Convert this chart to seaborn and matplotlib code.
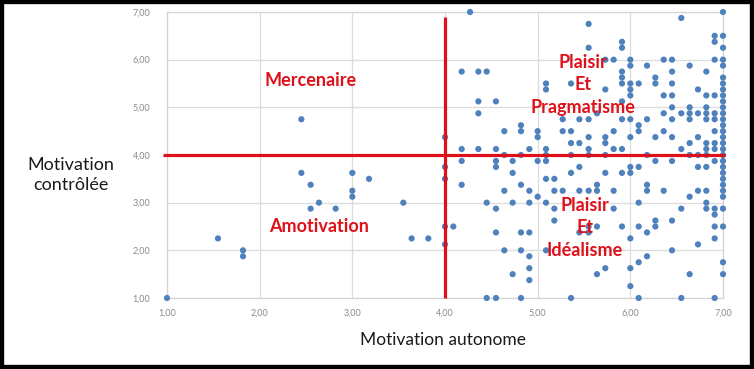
import numpy as np
import pandas as pd
import matplotlib
matplotlib.use("Agg")
import matplotlib.pyplot as plt
import seaborn as sns
from matplotlib.patches import Rectangle

# ---------------- data ----------------
x_columns = [1.00, 1.55, 1.82, 2.45, 2.55, 2.64, 2.82, 3.00, 3.18, 3.55, 3.64, 3.82,
             4.00, 4.09, 4.18, 4.27, 4.36, 4.45, 4.55, 4.64, 4.73, 4.82, 4.91, 5.00,
             5.09, 5.18, 5.27, 5.36, 5.45, 5.55, 5.64, 5.73, 5.82, 5.91, 6.00, 6.09,
             6.18, 6.27, 6.36, 6.45, 6.55, 6.64, 6.73, 6.82, 6.91, 7.00]

y_by_column = [
    [1.0],                                   # 1.00
    [2.25],                                  # 1.55
    [2.0, 1.875],                            # 1.82
    [4.75, 3.625],                           # 2.45
    [3.375, 2.875],                          # 2.55
    [3.0],                                   # 2.64
    [2.875],                                 # 2.82
    [3.625, 3.25, 3.125],                    # 3.00
    [3.5],                                   # 3.18
    [3.0],                                   # 3.55
    [2.25],                                  # 3.64
    [2.25],                                  # 3.82
    [4.375, 3.75, 3.5, 2.5, 2.125],          # 4.00
    [2.5],                                   # 4.09
    [5.75, 4.125, 3.875, 3.375],             # 4.18
    [7.0],                                   # 4.27
    [5.75, 5.125, 4.875, 4.125],             # 4.36
    [5.75, 3.0, 1.0],                        # 4.45
    [5.125, 4.125, 3.875, 3.75, 2.875, 2.375, 1.0],   # 4.55
    [4.5, 4.0, 3.25, 2.0],                   # 4.64
    [3.875, 3.625, 3.0, 1.5],                # 4.73
    [4.625, 4.5, 4.0, 3.375, 2.375, 2.0, 1.0],        # 4.82
    [4.125, 3.25, 3.0, 2.375, 1.875, 1.625, 1.375],   # 4.91
    [4.5, 4.375, 3.875, 3.125],              # 5.00
    [5.5, 5.375, 4.125, 4.0, 3.875, 3.5, 3.0, 2.0],   # 5.09
    [3.5, 3.25, 2.875, 2.625],               # 5.18
    [4.75, 4.5, 3.25],                       # 5.27
    [5.5, 4.5, 4.25, 4.0, 3.625, 1.0],       # 5.36
    [4.75, 4.25, 3.75, 3.25, 2.375],         # 5.45
    [6.75, 6.25, 4.75, 4.375, 4.125, 4.0, 3.25, 2.5, 2.375],  # 5.55
    [4.875, 3.375, 3.25, 2.5, 1.5],          # 5.64
    [6.0, 5.375, 4.375, 4.25, 4.0, 3.625, 1.625],     # 5.73
    [6.0, 4.5, 4.125, 3.25, 2.875],          # 5.82
    [6.375, 6.25, 5.75, 5.625, 5.5, 5.125, 4.75, 4.125, 3.625, 2.5],  # 5.91
    [6.0, 5.875, 5.5, 5.375, 5.25, 4.75, 4.375, 3.75, 3.625, 2.25, 1.625, 1.25],  # 6.00
    [5.5, 4.625, 4.5, 3.75, 3.0, 2.5, 1.75, 1.0],     # 6.09
    [5.875, 4.75, 4.0, 3.375, 3.25, 2.375, 1.875],    # 6.18
    [5.625, 5.5, 4.375, 3.875, 2.625, 2.5],  # 6.27
    [6.0, 5.25, 4.875, 4.5, 3.25],           # 6.36
    [6.0, 5.75, 5.5, 5.25, 5.0, 4.75, 4.375, 3.875, 2.625, 2.0],  # 6.45
    [6.875, 4.875, 4.125, 2.875, 1.0],       # 6.55
    [5.875, 5.0, 4.875, 4.75, 4.25, 4.0, 3.125, 1.5],            # 6.64
    [5.375, 4.875, 4.375, 4.0, 3.75, 3.25, 2.125],               # 6.73
    [5.75, 5.25, 5.0, 4.875, 4.75, 4.25, 4.125, 4.0, 3.75, 3.25, 3.0, 2.875],  # 6.82
    [6.5, 6.375, 6.0, 5.25, 4.875, 4.75, 4.5, 4.25, 4.125, 3.875, 2.875, 2.75, 2.5, 2.25, 1.0],  # 6.91
    [7.0, 6.5, 6.25, 6.0, 5.875, 5.625, 5.5, 5.375, 5.25, 5.125, 5.0, 4.875, 4.75,
     4.625, 4.5, 4.375, 4.25, 4.125, 4.0, 3.875, 3.75, 3.625, 3.5, 3.375, 3.25,
     3.125, 2.875, 2.5, 1.75, 1.5],          # 7.00
]

tick_values = [1, 2, 3, 4, 5, 6, 7]
tick_labels = ["1,00", "2,00", "3,00", "4,00", "5,00", "6,00", "7,00"]
threshold_autonome = 4.0
threshold_controlee = 4.0
x_title = "Motivation autonome"
y_title = "Motivation\ncontrôlée"
quadrant_texts = ["Mercenaire", "Amotivation",
                  "Plaisir\nEt\nPragmatisme", "Plaisir\nEt\nIdéalisme"]

# ---------------- build table ----------------
xs, ys = [], []
for xv, col in zip(x_columns, y_by_column):
    for yv in col:
        xs.append(xv)
        ys.append(yv)
df = pd.DataFrame({"autonome": xs, "controlee": ys})

# ---------------- drawing ----------------
sns.set_theme(style="white")
plt.rcParams["font.family"] = ["Lato", "DejaVu Sans"]

fig = plt.figure(figsize=(7.54, 3.69), dpi=100)
fig.patch.set_facecolor("white")
ax = fig.add_axes([167 / 754, 71 / 369, 556 / 754, 286 / 369])

sns.scatterplot(data=df, x="autonome", y="controlee", ax=ax, color="#4F81BD",
                s=20, edgecolor="none", linewidth=0, legend=False, zorder=3,
                clip_on=False)

ax.set_xlim(1, 7)
ax.set_ylim(1, 7)
ax.set_xticks(tick_values)
ax.set_xticklabels(tick_labels)
ax.set_yticks(tick_values)
ax.set_yticklabels(tick_labels)
ax.tick_params(axis="both", length=0, labelsize=6.5, labelcolor="#8a8a8a")
ax.tick_params(axis="x", pad=8)
ax.tick_params(axis="y", pad=12)
ax.grid(True, color="#dcdcdc", linewidth=0.9, zorder=0)
ax.set_axisbelow(True)
for sp in ax.spines.values():
    sp.set_color("#d4d4d4")
    sp.set_linewidth(0.9)
ax.set_xlabel("")
ax.set_ylabel("")

red = "#DE1019"
ax.plot([threshold_autonome, threshold_autonome], [1.0, 6.9], color=red, lw=2.3,
        zorder=4, clip_on=False, solid_capstyle="butt")
ax.plot([0.955, 7.02], [threshold_controlee, threshold_controlee], color=red, lw=2.3,
        zorder=4, clip_on=False, solid_capstyle="butt")

qkw = dict(color=red, fontsize=13, fontweight="bold", ha="center", va="center",
           zorder=6, linespacing=1.38)
ax.text(2.55, 5.57, quadrant_texts[0], **qkw)
ax.text(2.64, 2.51, quadrant_texts[1], **qkw)
ax.text(5.49, 5.47, quadrant_texts[2], **qkw)
ax.text(5.51, 2.47, quadrant_texts[3], **qkw)

fig.text(443 / 754, 1 - 340 / 369, x_title, ha="center", va="center",
         fontsize=12.5, color="#1a1a1a")
fig.text(71 / 754, 1 - 175 / 369, y_title, ha="center", va="center",
         fontsize=13, color="#1a1a1a", linespacing=1.3)

fig.patches.append(Rectangle((0, 0), 1, 1, transform=fig.transFigure, fill=False,
                             edgecolor="black", linewidth=6, zorder=10))

fig.savefig("out.png", dpi=100, facecolor="white")
